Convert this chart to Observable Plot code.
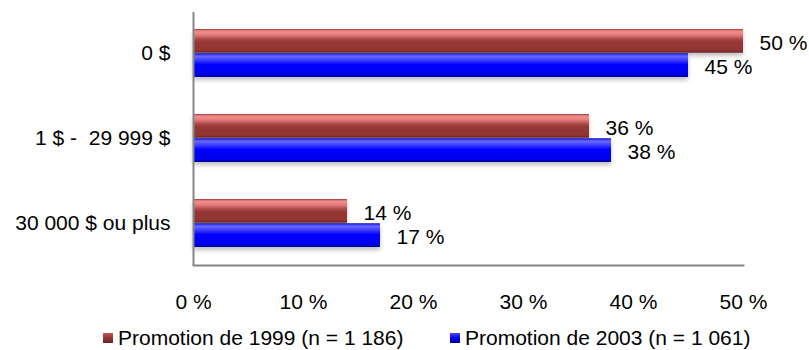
<!DOCTYPE html>
<html>
<head>
<meta charset="utf-8">
<script src="https://cdn.jsdelivr.net/npm/d3@7"></script>
<script src="https://cdn.jsdelivr.net/npm/@observablehq/plot@0.6"></script>
<style>
  html, body { margin: 0; padding: 0; background: #fff; }
  body { width: 809px; height: 350px; overflow: hidden; font-family: "Liberation Sans", Arial, sans-serif; }
  svg text { white-space: pre; }
  #legend { position: relative; height: 30px; font-size: 21px; color: #000; }
  .item { position: absolute; top: 0; height: 30px; display: flex; align-items: center; white-space: pre; }
  .sw { width: 10px; height: 10px; margin-right: 5px; }
</style>
</head>
<body>
<div id="chart"></div>
<div id="legend"></div>
<script>
const categories = ["0 $", "1 $ -  29 999 $", "30 000 $ ou plus"];
const seriesNames = ["Promotion de 1999 (n = 1 186)", "Promotion de 2003 (n = 1 061)"];
const values1999 = [50, 36, 14];
const values2003 = [45, 38, 17];
const xTicks = [0, 10, 20, 30, 40, 50];
const gapLine = [4.6];

const rows1999 = categories.map((c, i) => ({cat: c, value: values1999[i], series: seriesNames[0]}));
const rows2003 = categories.map((c, i) => ({cat: c, value: values2003[i], series: seriesNames[1]}));

const H = 320, MT = 12, MB = 55;
const PI = 0.43, PO = 0.2;
const step = (H - MT - MB) / (categories.length - PI + 2 * PO);
const half = step * (1 - PI) / 2;

const plot = Plot.plot({
  width: 809, height: H,
  marginLeft: 193, marginRight: 66, marginTop: MT, marginBottom: MB,
  style: {fontFamily: "'Liberation Sans', Arial, sans-serif", fontSize: "21px", color: "#000", background: "#fff", overflow: "visible"},
  x: {domain: [0, 50], ticks: xTicks, tickFormat: d => d + " %", tickSize: 0, tickPadding: 29, label: null},
  y: {domain: categories, paddingInner: PI, paddingOuter: PO, tickSize: 0, tickPadding: 23, label: null},
  marks: [
    Plot.barX(rows1999, {x: "value", y: "cat", fill: "url(#gRed)", insetBottom: half}),
    Plot.barX(rows2003, {x: "value", y: "cat", fill: "url(#gBlue)", insetTop: half}),
    Plot.ruleX(categories, {x: () => gapLine[0], y: d => d, stroke: "#fff", strokeWidth: 1}),
    Plot.text(rows1999, {x: "value", y: "cat", text: d => d.value + " %", textAnchor: "start", dx: 16, dy: -half / 2 + 2, fill: "#000"}),
    Plot.text(rows2003, {x: "value", y: "cat", text: d => d.value + " %", textAnchor: "start", dx: 16, dy: half / 2 + 2, fill: "#000"}),
    Plot.ruleX([0], {stroke: "#868686", strokeWidth: 2}),
    Plot.frame({anchor: "bottom", stroke: "#868686", strokeWidth: 2})
  ]
});

const svg = d3.select(plot);
const defs = svg.insert("defs", ":first-child");
function grad(id, stops) {
  const g = defs.append("linearGradient").attr("id", id).attr("x1", 0).attr("y1", 0).attr("x2", 0).attr("y2", 1);
  stops.forEach(([o, c]) => g.append("stop").attr("offset", o).attr("stop-color", c));
}
grad("gRed", [[0, "#8e3533"], [0.05, "#d77472"], [0.12, "#f28d8b"], [0.25, "#e27b79"], [0.45, "#a54341"], [0.55, "#953735"], [0.88, "#913533"], [1, "#6a2321"]]);
grad("gBlue", [[0, "#0000a0"], [0.05, "#3030ff"], [0.12, "#6a6aff"], [0.25, "#4848ff"], [0.45, "#0808ff"], [0.55, "#0000fa"], [0.88, "#0000f0"], [1, "#00008c"]]);
grad("gRedSw", [[0, "#c05856"], [0.5, "#953735"], [1, "#6a2321"]]);
grad("gBlueSw", [[0, "#4a4aff"], [0.5, "#0000f0"], [1, "#00008c"]]);
const f = defs.append("filter").attr("id", "shadow").attr("x", "-5%").attr("y", "-20%").attr("width", "110%").attr("height", "160%");
f.append("feDropShadow").attr("dx", 0).attr("dy", 3).attr("stdDeviation", 2).attr("flood-color", "#000").attr("flood-opacity", 0.25);
svg.selectAll("g[aria-label='bar']").attr("filter", "url(#shadow)");

document.getElementById("chart").appendChild(plot);

const legend = document.getElementById("legend");
const legendItems = [
  {name: seriesNames[0], fill: "url(#gRedSw)", left: 103},
  {name: seriesNames[1], fill: "url(#gBlueSw)", left: 450}
];
legendItems.forEach(it => {
  const div = document.createElement("div");
  div.className = "item";
  div.style.left = it.left + "px";
  div.style.top = "3px";
  div.innerHTML = `<svg class="sw" width="10" height="10"><rect width="10" height="10" fill="${it.fill}"/></svg><span>${it.name}</span>`;
  legend.appendChild(div);
});
</script>
</body>
</html>
